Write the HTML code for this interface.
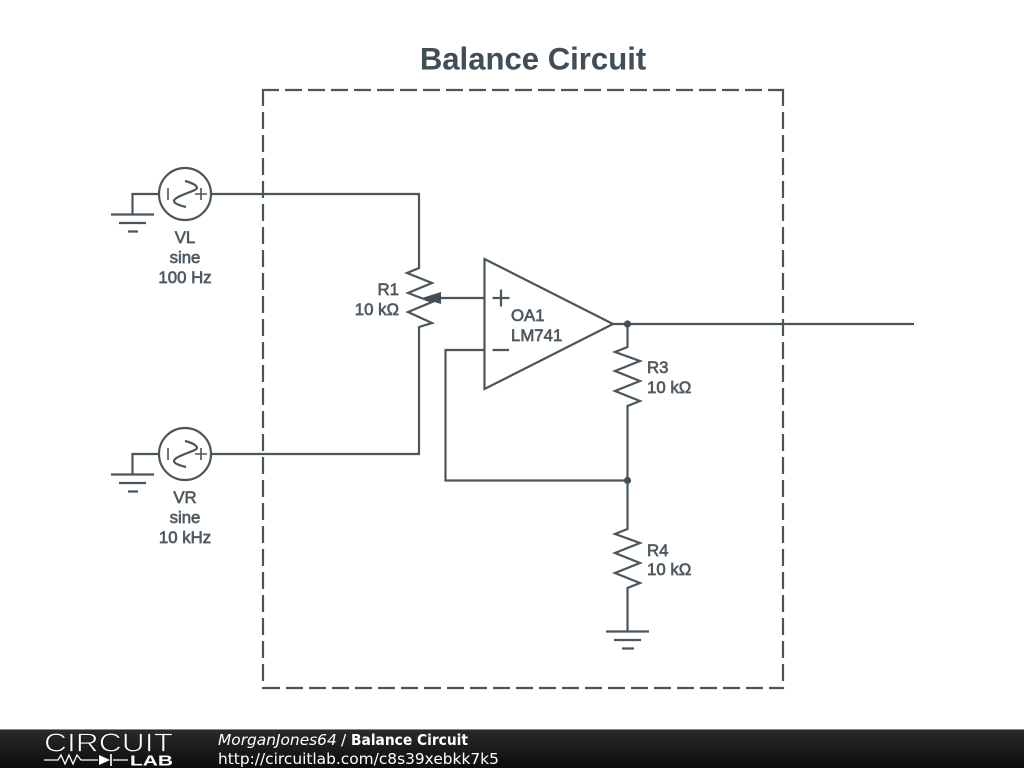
<!DOCTYPE html>
<html>
<head>
<meta charset="utf-8">
<style>
html,body{margin:0;padding:0;background:#fff;width:1024px;height:768px;overflow:hidden}
svg{display:block}
.w{fill:none;stroke:#4a555c;stroke-width:2.2}
.l{font-family:"Liberation Sans",sans-serif;font-size:16.8px;font-weight:normal;fill:#4f5a61;stroke:#4f5a61;stroke-width:.65}
.f{font-family:"DejaVu Sans",sans-serif;font-size:15.4px;fill:#fff}
</style>
</head>
<body>
<svg width="1024" height="768" viewBox="0 0 1024 768" xmlns="http://www.w3.org/2000/svg">
<defs>
<linearGradient id="g" x1="0" y1="0" x2="0" y2="1"><stop offset="0" stop-color="#2b2b2b"/><stop offset="1" stop-color="#0c0c0c"/></linearGradient>
</defs>
<rect width="1024" height="768" fill="#fff"/>
<text x="533" y="69.500" text-anchor="middle" font-family="Liberation Sans, sans-serif" font-size="31.1" font-weight="bold" fill="#414e56">Balance Circuit</text>

<g fill="none" stroke="#4a555c" stroke-width="2.2" stroke-dasharray="17 6">
<path d="M262,90H784"/><path d="M263,89V689"/><path d="M263,688H784"/><path d="M783,89V689"/>
</g>

<!-- VL source -->
<g class="w">
<circle cx="185" cy="194" r="26"/>
<path d="M159,194H132.500V214.500M111,214.500H154M119,223H146M128,231.500H138"/>
<path d="M185,181C190,182 197,185 197,188C197,191 174,196 174,201C174,204 182,206 186,207"/>
<path d="M168,188V200M195,194H207M201,188V200" stroke-width="1.600"/>
<path d="M211,194H419V268L407,273L432,283L408,293L432,302L408,312L432,323L419,327V454H211"/>
</g>
<!-- VR source -->
<g class="w">
<circle cx="185" cy="454" r="26"/>
<path d="M159,454H132.500V474.500M111,474.500H154M119,483H146M128,491.500H138"/>
<path d="M185,441C190,442 197,445 197,448C197,451 174,456 174,461C174,464 182,466 186,467"/>
<path d="M168,448V460M195,454H207M201,448V460" stroke-width="1.600"/>
</g>

<!-- Opamp -->
<path class="w" d="M484.500,259L613,324L484.500,389Z"/>
<path class="w" d="M492.500,298H509.500M501,289.500V306.500M492.500,350H509"/>
<path class="w" d="M484,298H438"/>
<path d="M422,298L441,292V304Z" fill="#414e56"/>
<path class="w" d="M484,350H445.500V480.500H628"/>
<path class="w" d="M613,324H914"/>

<!-- R3, R4 -->
<path class="w" d="M627.500,324V347L615,352L640,361L615,371L640,381L615,391L640,401L627.500,406V529L615,534L640,543L615,553L640,563L615,573L640,583L627.500,588V631"/>
<path class="w" d="M606,631.500H649M614,640H641M622,648.500H634"/>
<circle cx="627.500" cy="324" r="3.600" fill="#414e56"/>
<circle cx="627.500" cy="480.500" r="3.600" fill="#414e56"/>

<text class="l" x="185" y="243" text-anchor="middle">VL</text>
<text class="l" x="185" y="263" text-anchor="middle">sine</text>
<text class="l" x="185" y="283" text-anchor="middle">100 Hz</text>
<text class="l" x="185" y="503" text-anchor="middle">VR</text>
<text class="l" x="185" y="523" text-anchor="middle">sine</text>
<text class="l" x="185" y="543" text-anchor="middle">10 kHz</text>
<text class="l" x="399" y="295" text-anchor="end">R1</text>
<text class="l" x="399" y="315" text-anchor="end">10 kΩ</text>
<text class="l" x="511" y="321">OA1</text>
<text class="l" x="511" y="341">LM741</text>
<text class="l" x="647" y="373">R3</text>
<text class="l" x="647" y="393">10 kΩ</text>
<text class="l" x="647" y="556">R4</text>
<text class="l" x="647" y="575">10 kΩ</text>

<!-- Footer -->
<rect x="0" y="729" width="1024" height="39" fill="url(#g)"/>
<rect x="0" y="729" width="1024" height="1" fill="#888"/>
<text x="44" y="751.500" font-family="Liberation Sans, sans-serif" font-size="26" textLength="129" lengthAdjust="spacingAndGlyphs" fill="#fff" stroke="#1d1d1d" stroke-width=".8">CIRCUIT</text>
<path d="M44,760H58L61,755L65,764L69,755L73,764L77,755L81,760H98M113,760H128" fill="none" stroke="#fff" stroke-width="1.300"/>
<path d="M99,755V765L110,760Z" fill="#fff"/>
<path d="M111,754V766" stroke="#fff" stroke-width="1.600"/>
<text x="130" y="765.500" font-family="Liberation Sans, sans-serif" font-size="15" font-weight="bold" textLength="43" lengthAdjust="spacingAndGlyphs" fill="#fff">LAB</text>
<text class="f" x="218" y="745" font-style="italic">MorganJones64</text>
<text class="f" x="341" y="745">/</text>
<text class="f" x="351" y="745" font-weight="bold" textLength="117" lengthAdjust="spacingAndGlyphs">Balance Circuit</text>
<text class="f" x="218" y="764">http://circuitlab.com/c8s39xebkk7k5</text>
</svg>
</body>
</html>
